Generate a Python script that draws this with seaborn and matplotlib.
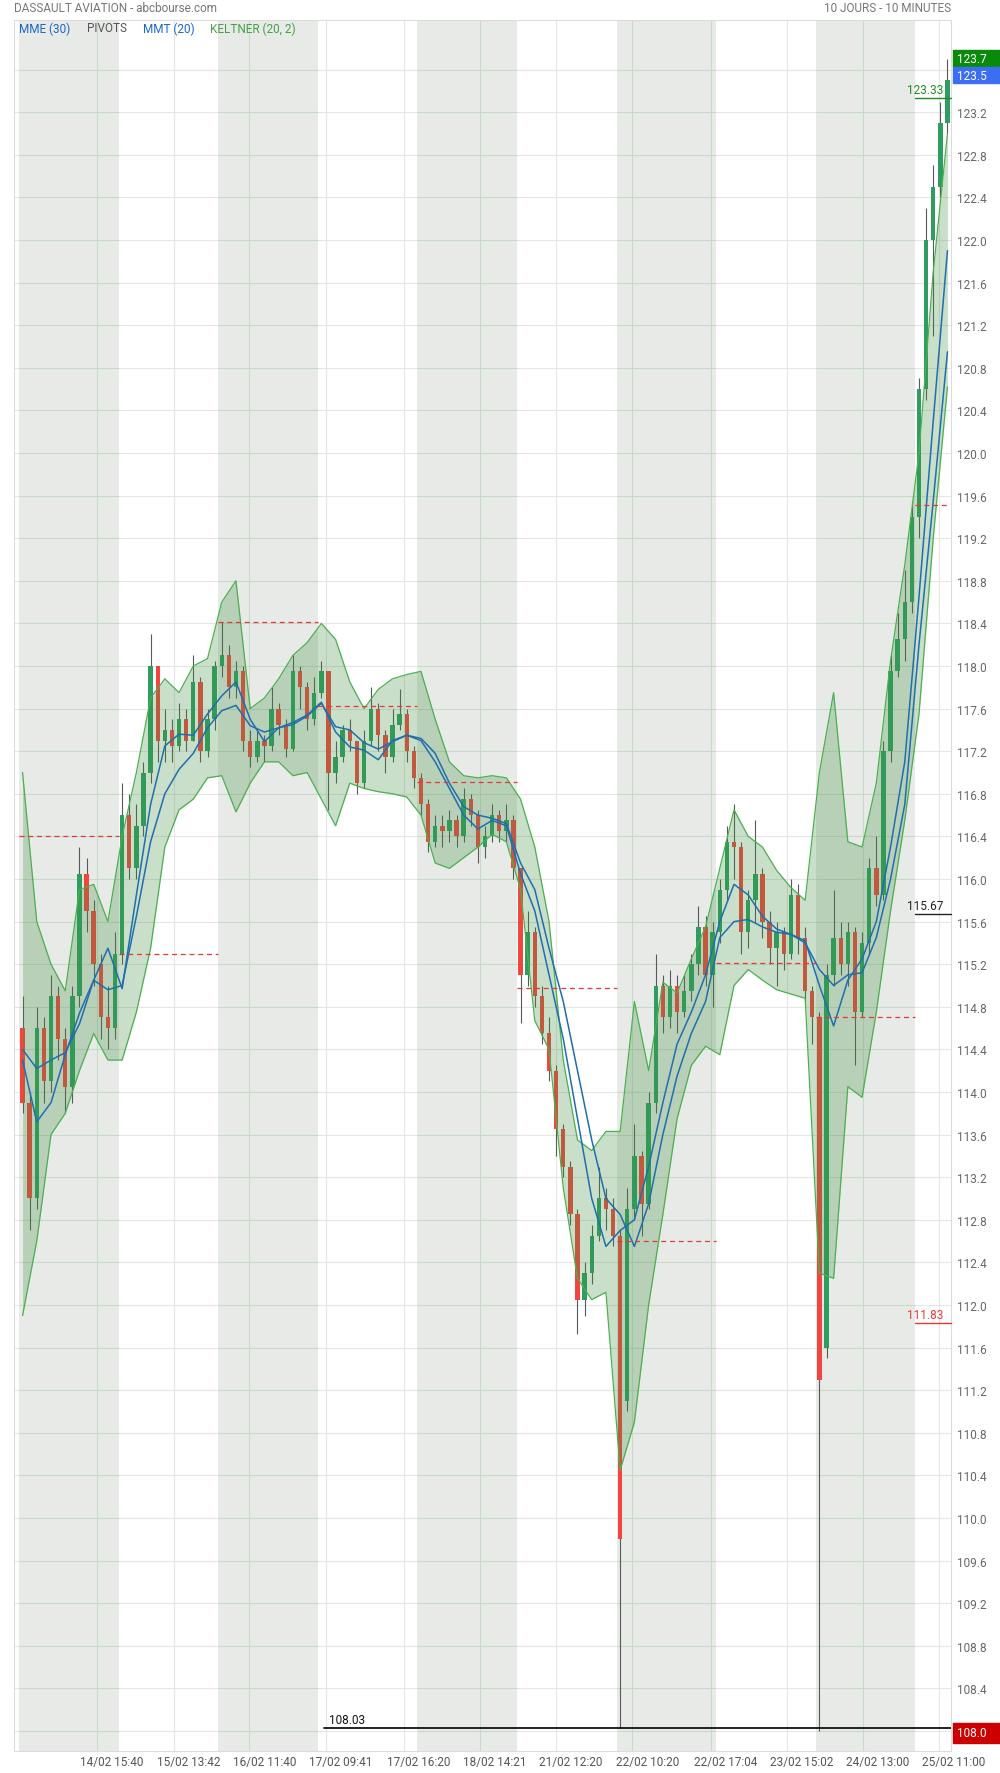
import matplotlib
matplotlib.use("Agg")
import matplotlib.pyplot as plt
import matplotlib.transforms as mtransforms
from matplotlib.patches import Rectangle
import numpy as np
import pandas as pd
import seaborn as sns

# Candles, 14 per session (9:00-17:30), last session partial
opens = [
    114.6, 113.9, 113.0, 114.6, 114.1, 114.9, 114.5, 114.05, 114.9, 116.05, 115.7, 115.2, 114.7, 114.6,
    115.3, 116.6, 116.1, 116.5, 117.0, 118.0, 117.3, 117.4, 117.25, 117.5, 117.3, 117.85, 117.2, 117.5,
    118.0, 118.1, 117.8, 117.95, 117.3, 117.15, 117.3, 117.25, 117.6, 117.45, 117.22, 117.95, 117.8, 117.5,
    117.75, 117.95, 117.0, 117.15, 117.4, 117.3, 116.9, 117.3, 117.6, 117.35, 117.15, 117.45, 117.55, 117.2,
    116.95, 116.7, 116.35, 116.5, 116.45, 116.55, 116.4, 116.75, 116.6, 116.3, 116.4, 116.6, 116.45, 116.55,
    116.1, 115.1, 115.5, 114.9, 114.55, 114.2, 113.65, 113.3, 112.85, 112.05, 112.3, 112.65, 113.0, 112.9,
    112.65, 111.1, 112.9, 113.4, 112.95, 113.9, 115.0, 114.7, 115.0, 114.75, 114.95, 115.2, 115.55, 115.1,
    115.5, 115.9, 116.35, 116.3, 115.5, 115.8, 116.05, 115.6, 115.35, 115.5, 115.3, 115.85, 115.45, 114.95,
    114.7, 111.6, 115.1, 115.45, 115.2, 115.5, 114.75, 115.4, 116.1, 115.85, 117.2, 117.95, 118.25, 118.6,
    119.4, 120.6, 122.0, 122.5, 123.1,
]
closes = [
    113.9, 113.0, 114.6, 114.1, 114.9, 114.5, 114.05, 114.9, 116.05, 115.7, 115.2, 114.7, 114.6, 115.3,
    116.6, 116.1, 116.5, 117.0, 118.0, 117.3, 117.4, 117.25, 117.5, 117.3, 117.85, 117.2, 117.5, 118.0,
    118.1, 117.8, 117.95, 117.3, 117.15, 117.3, 117.25, 117.6, 117.45, 117.22, 117.95, 117.8, 117.5, 117.75,
    117.95, 117.0, 117.15, 117.4, 117.3, 116.9, 117.3, 117.6, 117.35, 117.15, 117.45, 117.55, 117.2, 116.95,
    116.7, 116.35, 116.5, 116.45, 116.55, 116.4, 116.75, 116.6, 116.3, 116.4, 116.6, 116.45, 116.55, 116.1,
    115.1, 115.5, 114.9, 114.55, 114.2, 113.65, 113.3, 112.85, 112.05, 112.3, 112.65, 113.0, 112.9, 112.65,
    109.8, 112.9, 113.4, 112.95, 113.9, 115.0, 114.7, 115.0, 114.75, 114.95, 115.2, 115.55, 115.1, 115.5,
    115.9, 116.35, 116.3, 115.5, 115.8, 116.05, 115.6, 115.35, 115.5, 115.3, 115.85, 115.45, 114.95, 114.7,
    111.3, 115.1, 115.45, 115.2, 115.5, 114.75, 115.4, 116.1, 115.85, 117.2, 117.95, 118.25, 118.6, 119.4,
    120.6, 122.0, 122.5, 123.1, 123.5,
]
highs = [
    114.9, 114.0, 114.8, 114.7, 115.1, 115.0, 114.6, 115.0, 116.3, 116.2, 115.8, 115.3, 115.0, 115.5,
    116.9, 116.8, 116.7, 117.1, 118.3, 117.9, 117.6, 117.5, 117.65, 117.6, 118.1, 117.9, 117.6, 118.05,
    118.41, 118.2, 118.05, 118.0, 117.4, 117.4, 117.35, 117.8, 117.65, 117.5, 118.1, 118.0, 117.85, 117.9,
    118.05, 117.95, 117.3, 117.45, 117.5, 117.3, 117.4, 117.8, 117.65, 117.4, 117.6, 117.78, 117.6, 117.25,
    117.0, 116.75, 116.6, 116.6, 116.65, 116.6, 116.85, 116.8, 116.65, 116.5, 116.7, 116.65, 116.7, 116.6,
    116.1, 115.7, 115.55, 115.0, 114.7, 114.25, 113.7, 113.35, 112.9, 112.4, 112.75, 113.3, 113.1, 113.0,
    112.7, 113.1, 113.7, 113.45, 114.0, 115.3, 115.1, 115.15, 115.1, 115.1, 115.3, 115.75, 115.65, 115.6,
    116.0, 116.5, 116.7, 116.35, 115.9, 116.55, 116.1, 115.7, 115.6, 115.55, 116.0, 115.95, 115.55, 115.0,
    114.75, 115.2, 115.9, 115.6, 115.6, 115.55, 115.5, 116.2, 116.4, 117.3, 118.1, 118.5, 118.9, 119.55,
    120.7, 122.3, 122.7, 123.3, 123.7,
]
lows = [
    113.8, 112.7, 112.9, 113.9, 114.0, 114.3, 113.8, 113.9, 114.8, 115.5, 115.0, 114.5, 114.4, 114.5,
    115.2, 116.0, 116.0, 116.4, 116.9, 117.1, 117.1, 117.1, 117.2, 117.2, 117.3, 117.1, 117.15, 117.4,
    117.9, 117.7, 117.7, 117.2, 117.05, 117.1, 117.1, 117.2, 117.35, 117.15, 117.2, 117.6, 117.4, 117.45,
    117.7, 116.65, 116.9, 117.1, 117.2, 116.8, 116.85, 117.25, 117.2, 117.0, 117.1, 117.4, 117.1, 116.85,
    116.6, 116.25, 116.3, 116.3, 116.35, 116.3, 116.35, 116.5, 116.15, 116.2, 116.35, 116.35, 116.35, 116.0,
    114.65, 115.0, 114.8, 114.45, 114.1, 113.4, 113.2, 112.75, 111.73, 111.9, 112.2, 112.6, 112.7, 112.55,
    108.03, 111.0, 112.8, 112.65, 112.9, 113.8, 114.55, 114.6, 114.55, 114.7, 114.85, 115.1, 115.0, 114.8,
    115.4, 115.8, 116.0, 115.3, 115.35, 115.6, 115.45, 115.2, 115.0, 115.15, 115.25, 115.3, 114.85, 114.45,
    108.0, 111.5, 115.0, 115.1, 115.0, 114.25, 114.7, 115.3, 115.75, 115.8, 117.1, 117.9, 118.05, 118.5,
    119.2, 120.5, 121.1, 122.4, 123.0,
]

# indicators read at every second candle
kelt_upper = [
    117.0, 115.6, 115.2, 114.95, 115.9, 115.95, 115.6,
    116.4, 117.0, 117.7, 117.88, 117.75, 118.0, 118.07,
    118.6, 118.8, 117.6, 117.7, 117.88, 118.1, 118.22,
    118.4, 118.25, 117.85, 117.6, 117.78, 117.88, 117.92,
    117.95, 117.5, 117.1, 116.97, 116.95, 116.97, 116.95,
    116.75, 116.3, 115.6, 114.3, 113.55, 113.45, 113.63,
    113.63, 114.85, 114.2, 115.03, 114.93, 115.25, 115.55,
    116.1, 116.65, 116.4, 116.3, 116.08, 115.92, 115.8,
    117.0, 117.75, 116.35, 116.3, 116.9, 118.05, 118.95,
    120.0, 121.7, 123.0,
]
kelt_lower = [
    111.9, 112.6, 113.6, 113.8, 114.2, 114.55, 114.3,
    114.3, 114.75, 115.35, 116.3, 116.65, 116.75, 116.95,
    116.97, 116.63, 116.9, 117.1, 117.1, 116.97, 117.0,
    116.75, 116.5, 116.9, 116.85, 116.82, 116.8, 116.77,
    116.6, 116.15, 116.1, 116.2, 116.3, 116.42, 116.35,
    115.9, 114.67, 114.4, 113.1, 112.25, 112.05, 112.12,
    110.45, 110.9, 112.0, 112.85, 113.75, 114.25, 114.43,
    114.35, 115.0, 115.15, 115.05, 114.96, 114.92, 114.88,
    112.3, 112.25, 114.05, 113.95, 114.75, 115.7, 116.55,
    117.55, 119.2, 120.62,
]
mmt_20 = [
    114.4, 114.22, 114.3, 114.37, 114.64, 115.05, 115.35,
    114.97, 115.85, 116.7, 117.25, 117.36, 117.35, 117.55,
    117.72, 117.85, 117.5, 117.29, 117.42, 117.47, 117.54,
    117.66, 117.38, 117.24, 117.21, 117.12, 117.3, 117.35,
    117.3, 117.1, 116.85, 116.6, 116.47, 116.55, 116.5,
    116.05, 115.7, 115.1, 114.5, 113.75, 113.0, 112.55,
    112.7, 112.8, 113.3, 113.9, 114.45, 114.75, 115.1,
    115.6, 115.95, 115.85, 115.65, 115.53, 115.48, 115.42,
    115.0, 114.62, 115.05, 115.25, 115.6, 116.3, 117.1,
    118.65, 120.3, 121.9,
]
mme_30 = [
    114.3, 113.72, 113.9, 114.35, 114.74, 115.05, 114.96,
    115.0, 115.65, 116.35, 116.8, 117.03, 117.18, 117.42,
    117.58, 117.63, 117.44, 117.38, 117.42, 117.45, 117.53,
    117.65, 117.43, 117.4, 117.28, 117.22, 117.29, 117.35,
    117.32, 117.18, 116.9, 116.68, 116.6, 116.57, 116.52,
    116.15, 115.9, 115.35, 114.85, 114.2, 113.55, 113.0,
    112.85, 112.55, 112.95, 113.6, 114.15, 114.55, 114.85,
    115.45, 115.6, 115.62, 115.55, 115.5, 115.48, 115.4,
    115.15, 115.0, 115.1, 115.12, 115.45, 116.0, 116.7,
    118.2, 119.55, 120.95,
]

pivots = [116.40, 115.30, 118.41, 117.62, 116.91, 114.98, 112.60, 115.21, 114.70, 119.51]

tick_labels = ["14/02 15:40", "15/02 13:42", "16/02 11:40", "17/02 09:41", "17/02 16:20",
               "18/02 14:21", "21/02 12:20", "22/02 10:20", "22/02 17:04", "23/02 15:02",
               "24/02 13:00", "25/02 11:00"]
tick_session = [0, 1, 2, 3, 3, 4, 5, 6, 6, 7, 8, 9]
tick_minutes = [400, 282, 160, 41, 440, 321, 200, 80, 484, 362, 240, 120]

last_price, last_high, last_low = 123.5, 123.7, 108.0
low_mark = 108.03

sns.set_theme(style="white")
plt.rcParams["font.family"] = ["Roboto", "DejaVu Sans"]

W, H = 1000, 1774
fig = plt.figure(figsize=(W / 100, H / 100), dpi=100)
ax = fig.add_axes([14 / W, 1 - 1752 / H, 937 / W, 1731 / H])
xmin, xmax = -0.05, 9.357
ax.set_xlim(xmin, xmax)
ax.set_ylim(107.812, 124.066)

PER = 14
idx = np.arange(len(closes))
xs = idx // PER + (idx % PER + 0.5) / PER
df = pd.DataFrame({"x": xs, "open": opens, "close": closes, "high": highs, "low": lows})
ind = pd.DataFrame({"x": xs[::2], "upper": kelt_upper, "lower": kelt_lower,
                    "mmt": mmt_20, "mme": mme_30})

# session shading + grid
levels = np.round(np.arange(108.0, 123.7, 0.4), 1)
shaded = [0, 2, 4, 6, 8]
ax.hlines(levels, xmin, xmax, color="#e6e6e6", lw=0.8, zorder=0.4)
for d in shaded:
    ax.axvspan(d, d + 1, color="#e8eae8", lw=0, zorder=0.5)
    ax.hlines(levels, d, d + 1, color="#c6dbc6", lw=0.8, zorder=0.6)
tick_pos = [d + m / 510 for d, m in zip(tick_session, tick_minutes)]
for t in tick_pos:
    inside = int(t) in shaded
    ax.axvline(t, color="#c6dbc6" if inside else "#e6e6e6", lw=0.8, zorder=0.6)

# candles
up = df["close"] >= df["open"]
body_lo = df[["open", "close"]].min(axis=1)
body_h = np.maximum((df["close"] - df["open"]).abs(), 0.015)
ax.vlines(df["x"], df["low"], df["high"], color="#595959", lw=0.8, zorder=2.5)
ax.bar(df["x"], body_h, bottom=body_lo, width=0.62 / PER,
       color=np.where(up, "#2e9d5f", "#f2453d"), lw=0, zorder=3)

# Keltner band drawn over the candles
ax.fill_between(ind["x"], ind["lower"], ind["upper"], color="#3f8f3f", alpha=0.28, lw=0, zorder=4)
sns.lineplot(data=ind, x="x", y="upper", color="#4caf50", lw=0.9, ax=ax, zorder=5)
sns.lineplot(data=ind, x="x", y="lower", color="#4caf50", lw=0.9, ax=ax, zorder=5)

# moving averages
sns.lineplot(data=ind, x="x", y="mme", color="#1f6fae", lw=1.1, ax=ax, zorder=6)
sns.lineplot(data=ind, x="x", y="mmt", color="#1f6fae", lw=1.1, ax=ax, zorder=6)

# pivots
p_start = np.arange(len(pivots))
p_end = np.minimum(p_start + 1, xs[-1] + 0.3 / PER)
ax.hlines(pivots, p_start, p_end, colors="#e53935", linestyles=(0, (4, 3)), lw=0.9, zorder=6)

# markers on the right
yt = ax.get_yaxis_transform()
marks = [(123.33, "#1e8c1e"), (115.67, "#222222"), (111.83, "#e53935")]
for v, c in marks:
    ax.plot([0.9616, 1.0], [v, v], color=c, lw=1.0, transform=yt, zorder=7, clip_on=False)
    ax.annotate(f"{v:.2f}", xy=(0.9915, v), xycoords=yt, xytext=(0, 1.5), textcoords="offset points",
                ha="right", va="bottom", fontsize=8.5, color=c, zorder=7)
ax.plot([0.331, 1.0], [low_mark, low_mark], color="#111111", lw=1.3, transform=yt, zorder=7)
ax.annotate(f"{low_mark:.2f}", xy=(0.3365, low_mark), xycoords=yt, xytext=(0, 1.5),
            textcoords="offset points", ha="left", va="bottom", fontsize=8.5, color="#111111")

# axes styling
ax.set_xlabel("")
ax.set_ylabel("")
ax.set_xticks([])
ax.yaxis.tick_right()
ax.set_yticks(levels)
ax.set_yticklabels([f"{v:.1f}" if 108.0 < v < 123.5 else "" for v in levels])
ax.tick_params(axis="y", length=0, pad=4.5, labelsize=8.5, labelcolor="#666666")
for s in ax.spines.values():
    s.set_color("#dcdcdc")
    s.set_linewidth(0.8)

xtrans = mtransforms.offset_copy(ax.get_xaxis_transform(), fig=fig, x=15, y=-11, units="dots")
for t, lab in zip(tick_pos, tick_labels):
    ax.text(t, 0, lab, transform=xtrans, ha="center", va="center", fontsize=8.5, color="#555555")

# price boxes
def box(ytop, ybot, color, text):
    fig.patches.append(Rectangle((953 / W, 1 - ybot / H), 47 / W, (ybot - ytop) / H,
                                 transform=fig.transFigure, color=color, zorder=10))
    fig.text(957 / W, 1 - (ytop + ybot) / 2 / H, text, ha="left", va="center",
             fontsize=8.5, color="white", zorder=11)

box(51, 68, "#0a8a0a", f"{last_high:.1f}")
box(68, 84, "#3b6ef2", f"{last_price:.1f}")
box(1724, 1744, "#cc0000", f"{last_low:.1f}")

# header and legend
fig.text(14 / W, 1 - 8 / H, "DASSAULT AVIATION - abcbourse.com", ha="left", va="center",
         fontsize=8.5, color="#777777")
fig.text(951 / W, 1 - 8 / H, "10 JOURS - 10 MINUTES", ha="right", va="center",
         fontsize=8.5, color="#777777")
legend = [(19, "MME (30)", "#1a66cc"), (87, "PIVOTS", "#555555"),
          (143, "MMT (20)", "#1a66cc"), (210, "KELTNER (20, 2)", "#43a047")]
for px, txt, c in legend:
    fig.text(px / W, 1 - 29 / H, txt, ha="left", va="center", fontsize=8.5, color=c)

fig.savefig("out.png", dpi=100)
